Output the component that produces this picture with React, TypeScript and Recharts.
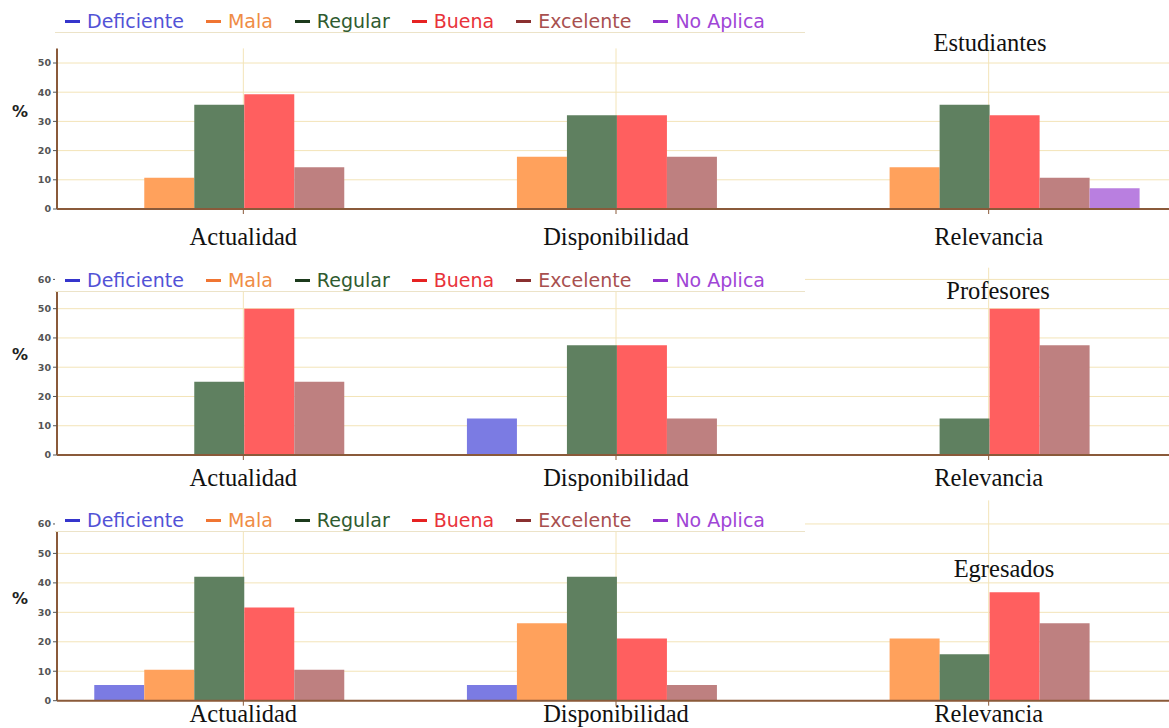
import React from 'react';
import { BarChart, Bar, XAxis, YAxis, CartesianGrid } from 'recharts';

const categories = ['Actualidad', 'Disponibilidad', 'Relevancia'];
const seriesNames = ['Deficiente', 'Mala', 'Regular', 'Buena', 'Excelente', 'No Aplica'];
const barColors = ['#7b7be3', '#ffa15c', '#5f8060', '#ff5f5f', '#be8080', '#b97fe0'];
const legendTextColors = ['#5252d6', '#ef8c45', '#2f5b30', '#e8323a', '#a8504f', '#a045d6'];
const legendDashColors = ['#3535cc', '#f07532', '#1c3a1c', '#e62222', '#8a3030', '#9232cc'];
const panelTitles = ['Estudiantes', 'Profesores', 'Egresados'];

// values (%) for each category, in series order
const estudiantesActualidad = [0, 10.7, 35.7, 39.3, 14.3, 0];
const estudiantesDisponibilidad = [0, 17.9, 32.1, 32.1, 17.9, 0];
const estudiantesRelevancia = [0, 14.3, 35.7, 32.1, 10.7, 7.1];
const profesoresActualidad = [0, 0, 25, 50, 25, 0];
const profesoresDisponibilidad = [12.5, 0, 37.5, 37.5, 12.5, 0];
const profesoresRelevancia = [0, 0, 12.5, 50, 37.5, 0];
const egresadosActualidad = [5.3, 10.5, 42.1, 31.6, 10.5, 0];
const egresadosDisponibilidad = [5.3, 26.3, 42.1, 21.1, 5.3, 0];
const egresadosRelevancia = [0, 21.1, 15.8, 36.8, 26.3, 0];

const estudiantesTicks = [0, 10, 20, 30, 40, 50];
const profesoresTicks = [0, 10, 20, 30, 40, 50, 60];
const egresadosTicks = [0, 10, 20, 30, 40, 50, 60];

const buildRows = (rows: number[][]) =>
  categories.map((c, i) => {
    const r: any = { category: c };
    seriesNames.forEach((s, j) => {
      r[s] = rows[i][j];
    });
    return r;
  });

const panelData = [
  buildRows([estudiantesActualidad, estudiantesDisponibilidad, estudiantesRelevancia]),
  buildRows([profesoresActualidad, profesoresDisponibilidad, profesoresRelevancia]),
  buildRows([egresadosActualidad, egresadosDisponibilidad, egresadosRelevancia]),
];
const panelTicks = [estudiantesTicks, profesoresTicks, egresadosTicks];

// layout (pixels)
const layouts = [
  { top: 0, height: 250, marginTop: 48.4, xAxisHeight: 41, domainMax: 55, labelOffset: 36, legendBottom: 33, legendHeight: 24, titleX: 990, titleBaseline: 51, percentY: 112 },
  { top: 250, height: 250, marginTop: 17.7, xAxisHeight: 45, domainMax: 64, labelOffset: 31, legendBottom: 292, legendHeight: 30, titleX: 998, titleBaseline: 299, percentY: 355 },
  { top: 490, height: 238, marginTop: 10.4, xAxisHeight: 27.3, domainMax: 68, labelOffset: 21.5, legendBottom: 532, legendHeight: 32, titleX: 1004, titleBaseline: 577, percentY: 599 },
];

const SERIF = "'Liberation Serif', 'Times New Roman', serif";
const SANS = "'DejaVu Sans', Verdana, sans-serif";
const AXIS_BROWN = '#8a5a3a';
const GRID = '#f3e4b8';

const makeTick = (offset: number) => (props: any) => (
  <text
    x={props.x}
    y={props.y + offset - 5}
    textAnchor="middle"
    fontFamily={SERIF}
    fontSize={24.5}
    fill="#111"
  >
    {props.payload.value}
  </text>
);

const LegendBox = ({ bottom, height }: { bottom: number; height: number }) => (
  <div
    style={{
      position: 'absolute',
      left: 55,
      width: 750,
      top: bottom - height,
      height: height,
      boxSizing: 'border-box',
      background: '#fff',
      borderBottom: '1px solid #ece3c8',
    }}
  >
    <div
      style={{
        position: 'absolute',
        left: 10,
        top: height - 23,
        height: 22,
        display: 'flex',
        alignItems: 'center',
        gap: 22,
        whiteSpace: 'nowrap',
        fontFamily: SANS,
        fontSize: 19,
        lineHeight: '22px',
      }}
    >
      {seriesNames.map((s, i) => (
        <div key={s} style={{ display: 'flex', alignItems: 'center' }}>
          <span
            style={{
              display: 'inline-block',
              width: 15,
              height: 3,
              background: legendDashColors[i],
              marginRight: 7,
            }}
          />
          <span style={{ color: legendTextColors[i] }}>{s}</span>
        </div>
      ))}
    </div>
  </div>
);

const Panel = ({ index }: { index: number }) => {
  const L = layouts[index];
  return (
    <>
      <div style={{ position: 'absolute', left: 0, top: L.top, width: 1176, height: L.height }}>
        <BarChart
          width={1176}
          height={L.height}
          data={panelData[index]}
          margin={{ top: L.marginTop, right: 1, bottom: 0, left: 0 }}
          barCategoryGap="10%"
          barGap={0}
        >
          <CartesianGrid
            stroke={GRID}
            strokeWidth={1}
            horizontalValues={panelTicks[index]}
            verticalValues={categories}
          />
          <XAxis
            dataKey="category"
            height={L.xAxisHeight}
            axisLine={{ stroke: AXIS_BROWN, strokeWidth: 2 }}
            tickLine={{ stroke: AXIS_BROWN }}
            tickSize={5}
            tickMargin={0}
            tick={makeTick(L.labelOffset)}
            interval={0}
          />
          <YAxis
            width={57}
            domain={[0, L.domainMax]}
            ticks={panelTicks[index]}
            allowDataOverflow
            axisLine={{ stroke: AXIS_BROWN, strokeWidth: 2 }}
            tickLine={{ stroke: '#555' }}
            tickSize={4}
            tickMargin={2}
            tick={{ fontSize: 9.5, fontWeight: 700, fill: '#555', fontFamily: SANS }}
          />
          {seriesNames.map((s, i) => (
            <Bar key={s} dataKey={s} fill={barColors[i]} isAnimationActive={false} />
          ))}
        </BarChart>
      </div>
      <LegendBox bottom={L.legendBottom} height={L.legendHeight} />
      <div
        style={{
          position: 'absolute',
          left: L.titleX - 100,
          width: 200,
          top: L.titleBaseline - 20.5,
          lineHeight: '24.5px',
          textAlign: 'center',
          fontFamily: SERIF,
          fontSize: 24.5,
          color: '#111',
        }}
      >
        {panelTitles[index]}
      </div>
      <div
        style={{
          position: 'absolute',
          left: 12,
          width: 18,
          top: L.percentY - 9,
          lineHeight: '18px',
          fontFamily: SANS,
          fontWeight: 700,
          fontSize: 16,
          color: '#222',
        }}
      >
        %
      </div>
    </>
  );
};

export default function App() {
  return (
    <div
      style={{
        position: 'absolute',
        left: 0,
        top: 0,
        width: 1169,
        height: 728,
        overflow: 'hidden',
        background: '#fff',
      }}
    >
      <Panel index={0} />
      <Panel index={1} />
      <Panel index={2} />
    </div>
  );
}
